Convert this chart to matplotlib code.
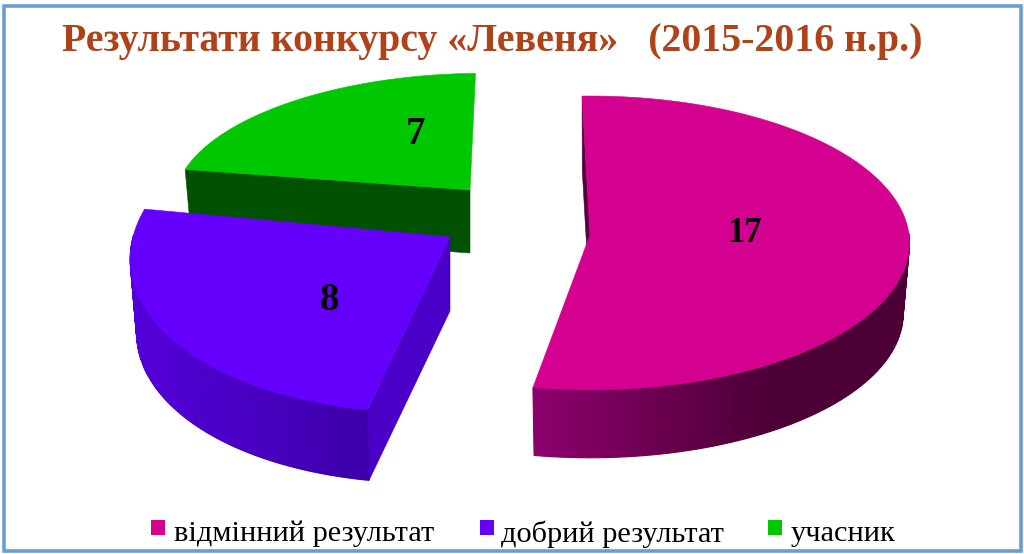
import numpy as np
import matplotlib
matplotlib.use("Agg")
import matplotlib.pyplot as plt
from matplotlib.patches import Polygon, Rectangle
from matplotlib.colors import to_rgb

title = "Результати конкурсу «Левеня»   (2015-2016 н.р.)"
categories = ["відмінний результат", "добрий результат", "учасник"]
values = [17, 8, 7]
top_colors = ["#D4008F", "#6400FB", "#00C800"]
face_colors = ["#560040", "#4A00C6", "#005200"]
rim_left = ["#8C006C", "#5400DA", "#005200"]
rim_right = ["#4C0036", "#3C00A8", "#005200"]

START = 91.5
PERSP = 0.054
DEPTH_SCALE = 0.98
# cx, cy, a, b, shear, depth
geom = [
    (590, 235, 319, 146.5, 0.0, 71),
    (450, 237, 317, 166, -0.15, 74),
    (470, 190, 294, 123, -0.11, 63),
]
label_pos = [(745, 233), (329, 300), (415, 134)]
label_size = [25, 28, 28]
legend_sq = [151, 480, 768]
legend_tx = [174, 501, 791]

fig = plt.figure(figsize=(10.24, 5.54), dpi=100, facecolor="white")
ax = fig.add_axes([0, 0, 1, 1])
ax.set_xlim(0, 1024)
ax.set_ylim(554, 0)
ax.axis("off")

ax.add_patch(Rectangle((3.5, 5.5), 1017, 545.5, fill=False, ec="#6C9BD6", lw=2.6, zorder=1))


def project(g, theta, low=False):
    cx, cy, a, b, s, d = g
    t = np.radians(theta)
    w = 1 + PERSP * np.sin(t)
    dy = -b * np.sin(t) / w
    dx = a * np.cos(t) / w + s * dy
    if low:
        return cx + dx * DEPTH_SCALE, cy + dy * DEPTH_SCALE + d
    return cx + dx, cy + dy


def wedge_ranges(vals):
    total = sum(vals)
    out = []
    cur = START
    for v in vals:
        nxt = cur - 360.0 * v / total
        out.append((nxt, cur))
        cur = nxt
    return out


ranges = wedge_ranges(values)
z = 2
for i in [2, 1, 0]:
    g = geom[i]
    t1, t2 = ranges[i]
    cx, cy = g[0], g[1]
    fa = ranges[i][1]
    # cut face
    p = project(g, fa)
    q = project(g, fa, low=True)
    ax.add_patch(Polygon([(cx, cy), p, q, (cx, cy + g[5])], closed=True, fc=face_colors[i],
                         ec=face_colors[i], lw=0.4, zorder=z))
    # rim: shaded bands on the near side only
    th = np.linspace(t1, t2, 121)
    lo, hi = np.array(to_rgb(rim_left[i])), np.array(to_rgb(rim_right[i]))
    xs = np.array([project(g, a)[0] for a in th])
    span = max(xs.max() - xs.min(), 1)
    for a0, a1 in zip(th[:-1], th[1:]):
        if np.sin(np.radians(a0)) > 0.0 and np.sin(np.radians(a1)) > 0.0:
            continue
        f = (project(g, a0)[0] - xs.min()) / span
        f = min(1.0, f * 1.6) if i == 0 else f
        c = lo + (hi - lo) * f
        ax.add_patch(Polygon([project(g, a0), project(g, a1), project(g, a1, True), project(g, a0, True)],
                             closed=True, fc=c, ec=c, lw=0.8, zorder=z))
    # top
    pts = [(cx, cy)] + [project(g, a) for a in np.linspace(t1, t2, 241)]
    ax.add_patch(Polygon(pts, closed=True, fc=top_colors[i], ec=top_colors[i], lw=0.4, zorder=z + 0.5))
    ax.text(label_pos[i][0], label_pos[i][1], str(values[i]), family="Liberation Serif", weight="bold",
            fontsize=label_size[i], color="black", ha="center", va="center", zorder=10)
    z += 1

ax.text(62, 42, title, family="Liberation Serif", weight="bold", fontsize=28.7, color="#B0421A",
        ha="left", va="center", zorder=10)

for i, cat in enumerate(categories):
    ax.add_patch(Rectangle((legend_sq[i], 520), 14, 15, fc=top_colors[i], ec="none", zorder=10))
    ax.text(legend_tx[i], 534, cat, family="Liberation Serif", fontsize=21.85, color="black",
            ha="left", va="center", zorder=10)

fig.savefig("out.png", dpi=100, facecolor="white")
